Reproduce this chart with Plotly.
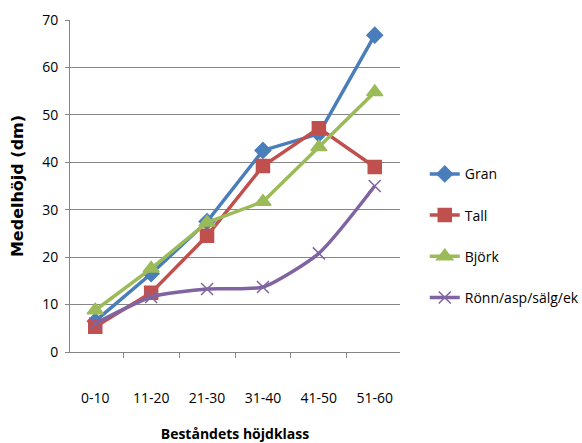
import plotly.graph_objects as go

# Height classes of the stand and mean height per tree species (dm)
klasser = ["0-10", "11-20", "21-30", "31-40", "41-50", "51-60"]
gran = [6.5, 16.5, 27.5, 42.5, 46.0, 66.8]
tall = [5.3, 12.5, 24.5, 39.2, 47.2, 39.0]
bjork = [8.8, 17.6, 27.3, 31.7, 43.2, 54.8]
ronn = [6.0, 11.6, 13.3, 13.7, 20.8, 35.0]

serier = [
    ("Gran", gran, "#4A7EBB", "diamond", 12, "linear"),
    ("Tall", tall, "#C0504D", "square", 13, "linear"),
    ("Björk", bjork, "#9BBB59", "triangle-up", 14, "linear"),
    ("Rönn/asp/sälg/ek", ronn, "#8064A2", "x-thin", 12, "spline"),
]

fig = go.Figure()
for namn, varden, farg, symbol, storlek, form in serier:
    fig.add_trace(go.Scatter(
        x=klasser, y=varden, name=namn, legendgroup=namn,
        mode="lines+markers",
        line=dict(color=farg, width=3.5, shape=form, smoothing=0.6),
        marker=dict(symbol=symbol, size=storlek, color=farg,
                    line=dict(color=farg, width=1.5)),
    ))

tickfont = dict(family="Open Sans", size=14, color="#000000")

fig.update_layout(
    width=582, height=443,
    margin=dict(l=70, r=182, t=20, b=91, autoexpand=False),
    paper_bgcolor="white", plot_bgcolor="white",
    font=tickfont,
    showlegend=True,
    legend=dict(
        x=1.075, xanchor="left", y=0.35, yanchor="middle",
        font=dict(family="Open Sans", size=14, color="#000000"),
        traceorder="grouped", tracegroupgap=20,
        itemwidth=30, bgcolor="rgba(0,0,0,0)",
    ),
    xaxis=dict(
        type="category", tickson="boundaries", automargin=False,
        ticks="outside", ticklen=5, tickcolor="#868686",
        showline=True, linecolor="#868686", linewidth=1,
        showgrid=False, zeroline=False,
        tickfont=tickfont, ticklabelstandoff=33,
        title=dict(text="<b>Beståndets höjdklass</b>",
                   font=dict(family="Open Sans", size=14, color="#000000"),
                   standoff=26),
    ),
    yaxis=dict(
        range=[0, 70], dtick=10, automargin=False,
        ticks="outside", ticklen=4, tickcolor="#868686",
        showline=True, linecolor="#868686", linewidth=1,
        showgrid=True, gridcolor="#868686", gridwidth=1,
        zeroline=False,
        tickfont=tickfont, ticklabelstandoff=4,
        title=dict(text="<b>Medelhöjd (dm)</b>",
                   font=dict(family="DejaVu Sans", size=16, color="#000000"),
                   standoff=14),
    ),
)

fig.write_html("out.html")
